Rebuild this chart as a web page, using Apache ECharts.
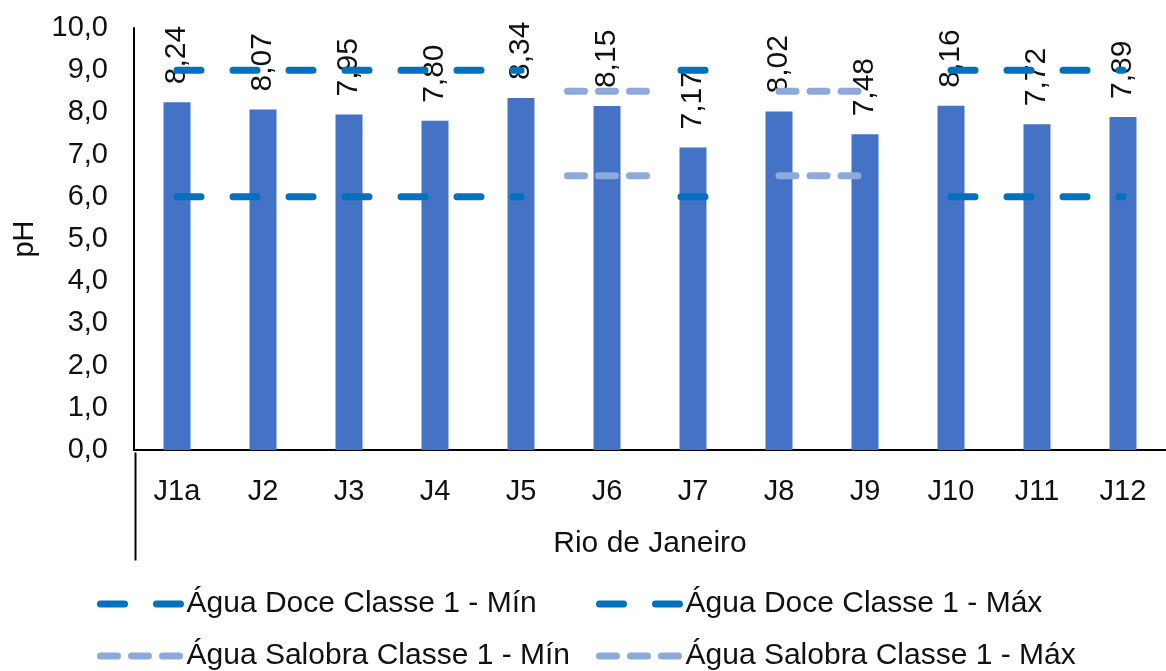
<!DOCTYPE html>
<html>
<head>
<meta charset="utf-8">
<script src="https://cdn.jsdelivr.net/npm/echarts@6/dist/echarts.min.js"></script>
<style>html,body{margin:0;padding:0;background:#fff}#c{width:1166px;height:671px}</style>
</head>
<body>
<div id="c"></div>
<script>
const categories = ['J1a','J2','J3','J4','J5','J6','J7','J8','J9','J10','J11','J12'];
const phValues = [8.24, 8.07, 7.95, 7.80, 8.34, 8.15, 7.17, 8.02, 7.48, 8.16, 7.72, 7.89];
const doceMin = [6, 6, 6, 6, 6, null, 6, null, null, 6, 6, 6];
const doceMax = [9, 9, 9, 9, 9, null, 9, null, null, 9, 9, 9];
const salobraMin = [null, null, null, null, null, 6.5, null, 6.5, 6.5, null, null, null];
const salobraMax = [null, null, null, null, null, 8.5, null, 8.5, 8.5, null, null, null];
const yTicks = {min: 0, max: 10, interval: 1};
const names = ['Água Doce Classe 1 - Mín', 'Água Doce Classe 1 - Máx', 'Água Salobra Classe 1 - Mín', 'Água Salobra Classe 1 - Máx'];

const FONT = 'Liberation Sans, Arial, sans-serif';
const TXT = '#111';
const DOCE = '#0070C0';
const SAL = '#8EA9DB';
const fmt = v => Number(v).toFixed(2).replace('.', ',');

// symbols used for isolated points (a line can't be drawn through a single point)
const doceLone = 'path://M3.5,0H27.5A3.5,3.5 0 0 1 27.5,7H3.5A3.5,3.5 0 0 1 3.5,0Z';
const salLone = 'path://M3.5,0H20.5A3.5,3.5 0 0 1 20.5,7H3.5A3.5,3.5 0 0 1 3.5,0Z M34.5,0H51.5A3.5,3.5 0 0 1 51.5,7H34.5A3.5,3.5 0 0 1 34.5,0Z M65.5,0H82.5A3.5,3.5 0 0 1 82.5,7H65.5A3.5,3.5 0 0 1 65.5,0Z';

function withLone(arr, sym, size) {
  return arr.map((v, i) => {
    if (v == null) return null;
    const prev = i > 0 ? arr[i-1] : null;
    const next = i < arr.length - 1 ? arr[i+1] : null;
    if (prev == null && next == null) {
      return {value: v, symbol: sym, symbolSize: size, symbolKeepAspect: false};
    }
    return v;
  });
}

const doceDash = [24, 32];
const salDash = [17, 14];

function lineSeries(name, arr, color, dash, sym, size) {
  return {
    name: name, type: 'line', data: withLone(arr, sym, size),
    symbol: 'none', connectNulls: false, z: 3,
    itemStyle: {color: color},
    lineStyle: {color: color, width: 7, type: dash, cap: 'round'},
    emphasis: {disabled: true}, silent: true, animation: false
  };
}

const chart = echarts.init(document.getElementById('c'));
const legendText = {fontSize: 30, fontFamily: FONT, color: TXT};
function legendItem(name, color, dash) {
  return {name: name, lineStyle: {width: 7, type: dash, cap: 'round', color: color},
          itemStyle: {opacity: 0}};
}
chart.setOption({
  animation: false,
  grid: {left: 134, right: -7, top: 28, bottom: 221, containLabel: false},
  xAxis: {
    type: 'category', data: categories,
    axisLine: {lineStyle: {color: '#000', width: 2}},
    axisTick: {show: false},
    axisLabel: {fontSize: 29, fontFamily: FONT, color: TXT, margin: 27},
    name: 'Rio de Janeiro', nameLocation: 'middle', nameGap: 79,
    nameTextStyle: {fontSize: 30, fontFamily: FONT, color: TXT}
  },
  yAxis: {
    type: 'value', min: yTicks.min, max: yTicks.max, interval: yTicks.interval,
    axisLine: {show: true, lineStyle: {color: '#000', width: 2}},
    axisTick: {show: false},
    splitLine: {show: false},
    axisLabel: {fontSize: 29, fontFamily: FONT, color: TXT, margin: 26,
      formatter: v => Number(v).toFixed(1).replace('.', ',')},
    name: 'pH', nameLocation: 'middle', nameGap: 95,
    nameTextStyle: {fontSize: 29, fontFamily: FONT, color: TXT}
  },
  legend: [
    {orient: 'vertical', left: 97, top: 589, padding: 0, itemWidth: 81, itemHeight: 7, itemGap: 22,
     textStyle: legendText, selectedMode: false,
     data: [legendItem(names[0], DOCE, doceDash), legendItem(names[2], SAL, salDash)]},
    {orient: 'vertical', left: 596, top: 589, padding: 0, itemWidth: 81, itemHeight: 7, itemGap: 22,
     textStyle: legendText, selectedMode: false,
     data: [legendItem(names[1], DOCE, doceDash), legendItem(names[3], SAL, salDash)]}
  ],
  graphic: [{
    type: 'line', left: 133, top: 450, silent: true,
    shape: {x1: 0, y1: 0, x2: 0, y2: 108},
    style: {stroke: '#000', lineWidth: 2}
  }],
  series: [
    {
      name: 'pH', type: 'bar', data: phValues, barWidth: 27, z: 2,
      itemStyle: {color: '#4472C4'},
      label: {show: true, position: 'top', rotate: 90, distance: 18,
        align: 'left', verticalAlign: 'middle',
        fontSize: 30, fontFamily: FONT, color: TXT, formatter: p => fmt(p.value)},
      emphasis: {disabled: true}, silent: true
    },
    lineSeries(names[0], doceMin, DOCE, doceDash, doceLone, [31, 7]),
    lineSeries(names[1], doceMax, DOCE, doceDash, doceLone, [31, 7]),
    lineSeries(names[2], salobraMin, SAL, salDash, salLone, [86, 7]),
    lineSeries(names[3], salobraMax, SAL, salDash, salLone, [86, 7])
  ]
});
</script>
</body>
</html>
